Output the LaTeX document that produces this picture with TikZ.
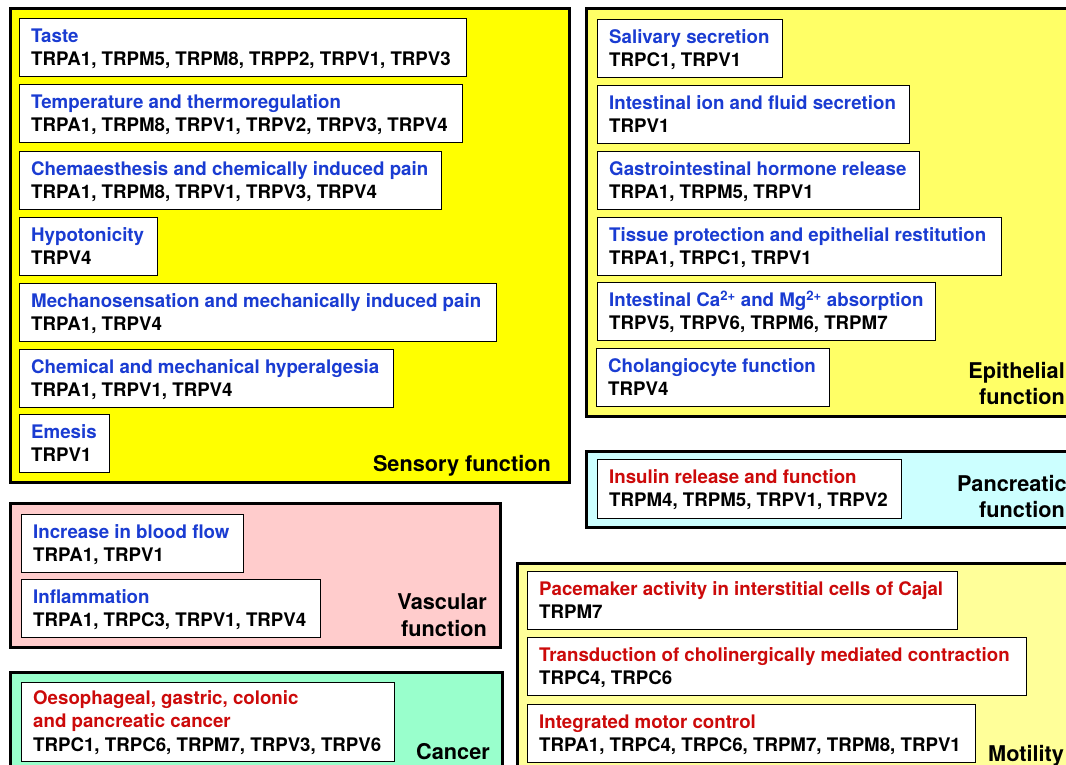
\documentclass[tikz,border=0pt]{standalone}
\usepackage{fontspec}
\setmainfont{TeX Gyre Heros}
\definecolor{ttlblue}{HTML}{1A3CD2}
\definecolor{ttlred}{HTML}{CC0A0A}
\definecolor{sensoryfill}{HTML}{FFFF00}
\definecolor{epifill}{HTML}{FFFF66}
\definecolor{pancfill}{HTML}{CCFFFF}
\definecolor{vascfill}{HTML}{FFCCCC}
\definecolor{cancfill}{HTML}{99FFCC}
\definecolor{motfill}{HTML}{FFFF99}
\tikzset{
  panel/.style={draw=black, line width=3pt},
  entrybox/.style={draw=black, line width=1.4pt, fill=white, anchor=north west, inner sep=0pt},
  ttl/.style={anchor=base west, inner sep=0pt, font=\bfseries\fontsize{18.7}{22}\selectfont},
  plabel/.style={inner sep=0pt, anchor=base east, font=\bfseries\fontsize{21.7}{26}\selectfont}
}
% name, x1, y1, x2, y2, title colour, title, channels
\newcommand\trpentry[8]{%
  \node[entrybox, minimum width={(#4-#2)*1pt}, minimum height={(#5-#3)*1pt}] (#1) at (#2,#3) {};
  \node[ttl, text=#6] (#1-t) at (#2+12,#3+24.5) {#7};
  \node[ttl, text=black] (#1-c) at (#2+12,#3+47.5) {#8};
}
\begin{document}
\begin{tikzpicture}[x=1pt,y=-1pt]
\clip (0,0) rectangle (1066,765);
\fill[white] (0,0) rectangle (1066,765);

% Sensory function
\draw[panel, fill=sensoryfill] (10,9) rectangle (569,482);
\trpentry{taste}{19}{18}{466}{76}{ttlblue}{Taste}{TRPA1, TRPM5, TRPM8, TRPP2, TRPV1, TRPV3}
\trpentry{temp}{19}{84}{462}{142}{ttlblue}{Temperature and thermoregulation}{TRPA1, TRPM8, TRPV1, TRPV2, TRPV3, TRPV4}
\trpentry{chem}{19}{151}{441}{209}{ttlblue}{Chemaesthesis and chemically induced pain}{TRPA1, TRPM8, TRPV1, TRPV3, TRPV4}
\trpentry{hypo}{19}{217}{157}{275}{ttlblue}{Hypotonicity}{TRPV4}
\trpentry{mech}{19}{283}{496}{341}{ttlblue}{Mechanosensation and mechanically induced pain}{TRPA1, TRPV4}
\trpentry{hyper}{19}{349}{393}{407}{ttlblue}{Chemical and mechanical hyperalgesia}{TRPA1, TRPV1, TRPV4}
\trpentry{emesis}{19}{414}{109}{472}{ttlblue}{Emesis}{TRPV1}
\node[plabel] (sens-l) at (551,471) {Sensory function};

% Epithelial function
\draw[panel, fill=epifill] (586,9) rectangle (1080,416);
\trpentry{saliv}{597}{19}{782}{77}{ttlblue}{Salivary secretion}{TRPC1, TRPV1}
\trpentry{ion}{597}{85}{909}{143}{ttlblue}{Intestinal ion and fluid secretion}{TRPV1}
\trpentry{gihorm}{597}{151}{919}{209}{ttlblue}{Gastrointestinal hormone release}{TRPA1, TRPM5, TRPV1}
\trpentry{tissue}{597}{217}{1001}{275}{ttlblue}{Tissue protection and epithelial restitution}{TRPA1, TRPC1, TRPV1}
\trpentry{caabs}{597}{282}{935}{340}{ttlblue}{Intestinal Ca\textsuperscript{2+} and Mg\textsuperscript{2+} absorption}{TRPV5, TRPV6, TRPM6, TRPM7}
\trpentry{chol}{596}{348}{829}{406}{ttlblue}{Cholangiocyte function}{TRPV4}
\node[plabel] (epi-l1) at (1065,378) {Epithelial};
\node[plabel] (epi-l2) at (1065,404) {function};

% Pancreatic function
\draw[panel, fill=pancfill] (586,451) rectangle (1080,527);
\trpentry{insulin}{597}{459}{901}{518}{ttlred}{Insulin release and function}{TRPM4, TRPM5, TRPV1, TRPV2}
\node[plabel] (panc-l1) at (1067,491) {Pancreatic};
\node[plabel] (panc-l2) at (1065,517) {function};

% Vascular function
\draw[panel, fill=vascfill] (10,503) rectangle (500,647);
\trpentry{blood}{21}{514}{243}{572}{ttlblue}{Increase in blood flow}{TRPA1, TRPV1}
\trpentry{inflam}{21}{579}{320}{637}{ttlblue}{Inflammation}{TRPA1, TRPC3, TRPV1, TRPV4}
\node[plabel] (vasc-l1) at (487,609) {Vascular};
\node[plabel] (vasc-l2) at (487,636) {function};

% Cancer
\draw[panel, fill=cancfill] (10,672) rectangle (502,790);
\node[entrybox, minimum width=373pt, minimum height=79pt] (cancer) at (21,682) {};
\node[ttl, text=ttlred] (cancer-t1) at (33,704) {Oesophageal, gastric, colonic};
\node[ttl, text=ttlred] (cancer-t2) at (33,727.5) {and pancreatic cancer};
\node[ttl, text=black] (cancer-c) at (33,751) {TRPC1, TRPC6, TRPM7, TRPV3, TRPV6};
\node[plabel] (canc-l) at (490,759) {Cancer};

% Motility
\draw[panel, fill=motfill] (517,563) rectangle (1080,790);
\trpentry{pace}{527}{571}{957}{629}{ttlred}{Pacemaker activity in interstitial cells of Cajal}{TRPM7}
\trpentry{trans}{527}{637}{1026}{695}{ttlred}{Transduction of cholinergically mediated contraction}{TRPC4, TRPC6}
\trpentry{integ}{527}{704}{975}{762}{ttlred}{Integrated motor control}{TRPA1, TRPC4, TRPC6, TRPM7, TRPM8, TRPV1}
\node[plabel, anchor=base west] (mot-l) at (988,761) {Motility};
\end{tikzpicture}
\end{document}
